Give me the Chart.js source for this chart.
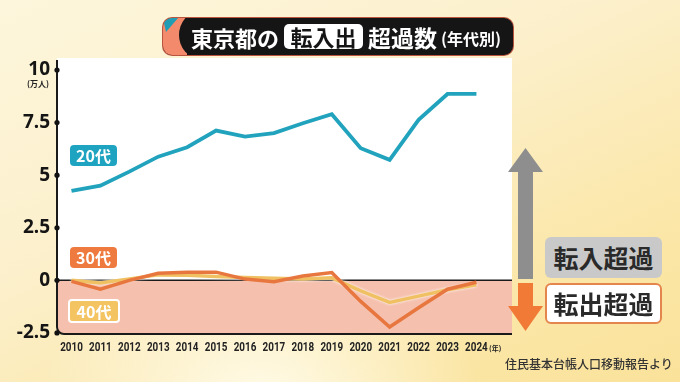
<!DOCTYPE html>
<html lang="ja">
<head>
<meta charset="utf-8">
<script src="https://cdn.jsdelivr.net/npm/chart.js@4.4.1/dist/chart.umd.min.js"></script>
<style>
  html,body{margin:0;padding:0;}
  body{width:680px;height:382px;overflow:hidden;position:relative;
    background:
      radial-gradient(ellipse 220px 160px at 260px 400px, rgba(255,252,236,0.95), rgba(255,252,236,0) 100%),
      linear-gradient(155deg, #fdf6dc 0%, #fcf0cc 40%, #fbe7a9 75%, #fae29a 100%);
    font-family:"Noto Sans CJK JP","Noto Sans",sans-serif;}
  #wrap{position:absolute;left:0;top:0;width:680px;height:382px;}
  .ov{position:absolute;white-space:nowrap;}
  .badge{position:absolute;color:#fff;font-weight:700;font-size:16px;line-height:21px;text-align:center;border-radius:4px;}
  .jt{font-family:"Noto Sans CJK JP",sans-serif;font-weight:700;}
</style>
</head>
<body>
<div id="wrap"><canvas id="c" width="680" height="382"></canvas></div>

<!-- title -->
<div class="ov" style="left:163px;top:18px;width:350px;height:37px;background:#151515;border-radius:9px;overflow:hidden;box-shadow:0 0 0 1px #b9553f;">
  <svg width="40" height="37" style="position:absolute;left:0;top:0">
    <rect x="0" y="0" width="24" height="37" fill="#f38a6b"/>
    <ellipse cx="36" cy="17" rx="20" ry="23" fill="#151515"/>
    <polygon points="0,0 15,0 3,14" fill="#1f9db4"/>
  </svg>
</div>
<div class="ov jt" style="left:191px;top:21px;font-size:22px;line-height:32px;color:#fff;">東京都の</div>
<div class="ov jt" style="left:284px;top:24px;width:79px;height:25px;background:#fff;border-radius:5px;color:#151515;font-size:22px;line-height:25px;text-align:center;">転入出</div>
<div class="ov jt" style="left:368px;top:21px;font-size:23px;line-height:32px;color:#fff;">超過数</div>
<div class="ov jt" style="left:441px;top:24px;font-size:16px;line-height:28px;color:#fff;">(年代別)</div>

<!-- unit -->
<div class="ov jt" style="left:27px;top:78px;font-size:8px;line-height:12px;color:#222;">(万人)</div>
<div class="ov jt" style="left:489px;top:343px;font-size:7px;line-height:10px;color:#222;">(年)</div>

<!-- series badges -->
<div class="badge jt" style="left:70px;top:145px;width:47px;height:21px;background:#1ea4c0;">20代</div>
<div class="badge jt" style="left:70px;top:247px;width:47px;height:21px;background:#ee7a3f;">30代</div>
<div class="badge jt" style="left:68px;top:299px;width:48px;height:20px;background:#f4c462;border:2px solid #fff;">40代</div>

<!-- arrows -->
<svg class="ov" style="left:0;top:0" width="680" height="382">
  <rect x="518" y="170" width="15" height="109" fill="#8e8e8e"/>
  <polygon points="508,172 525.5,148 543,172" fill="#8e8e8e"/>
  <rect x="518" y="283" width="15" height="25" fill="#f07a36"/>
  <polygon points="508,306 525.5,331 543,306" fill="#f07a36"/>
</svg>

<!-- right labels -->
<div class="ov jt" style="left:545px;top:237px;width:117px;height:41px;background:#c9c9c9;border-radius:6px;color:#2a2a2a;font-size:25px;line-height:41px;text-align:center;">転入超過</div>
<div class="ov jt" style="left:545px;top:283px;width:113px;height:37px;background:#fff;border:2px solid #e4854e;border-radius:6px;color:#2a2a2a;font-size:25px;line-height:37px;text-align:center;">転出超過</div>

<!-- source -->
<div class="ov" style="left:505px;top:356px;font-size:12px;line-height:16px;color:#333;font-family:'Noto Sans CJK JP',sans-serif;font-weight:500;">住民基本台帳人口移動報告より</div>

<script>
const years = [2010,2011,2012,2013,2014,2015,2016,2017,2018,2019,2020,2021,2022,2023,2024];
const age20 = [4.25,4.5,5.17,5.88,6.33,7.12,6.83,7.0,7.47,7.9,6.28,5.73,7.63,8.86,8.86];
const age30 = [-0.05,-0.42,0.0,0.34,0.39,0.39,0.06,-0.07,0.21,0.37,-1.0,-2.22,-1.3,-0.42,-0.09];
const age40 = [0.0,-0.13,0.07,0.26,0.24,0.18,0.13,0.1,0.06,0.12,-0.5,-1.05,-0.75,-0.45,-0.21];
const yTicks = [-2.5,0,2.5,5,7.5,10];

const panelPlugin = {
  id:'panel',
  beforeDatasetsDraw(chart){
    const {ctx, chartArea:a, scales:{y}} = chart;
    const y0 = y.getPixelForValue(0);
    const r = 7;
    ctx.save();
    ctx.fillStyle = '#ffffff';
    ctx.fillRect(a.left, a.top, a.right - a.left, y0 - a.top);
    ctx.beginPath();
    ctx.moveTo(a.left, y0);
    ctx.lineTo(a.right, y0);
    ctx.lineTo(a.right, a.bottom);
    ctx.lineTo(a.left + r, a.bottom);
    ctx.arcTo(a.left, a.bottom, a.left, a.bottom - r, r);
    ctx.closePath();
    ctx.fillStyle = '#f5c0ad';
    ctx.fill();
    ctx.strokeStyle = '#1a1a1a';
    ctx.lineWidth = 1.5;
    ctx.beginPath(); ctx.moveTo(a.left, y0); ctx.lineTo(a.right, y0); ctx.stroke();
    ctx.lineWidth = 2;
    ctx.beginPath();
    ctx.moveTo(a.left, a.top + 2);
    ctx.lineTo(a.left, a.bottom - r);
    ctx.arcTo(a.left, a.bottom, a.left + r, a.bottom, r);
    ctx.lineTo(a.right, a.bottom);
    ctx.stroke();
    ctx.fillStyle = '#111';
    y.ticks.forEach(t => {
      const py = y.getPixelForValue(t.value);
      ctx.beginPath(); ctx.arc(a.left, py, 2.6, 0, Math.PI * 2); ctx.fill();
    });
    ctx.restore();
  },
  beforeDatasetDraw(chart, args){
    if (args.index === 2) {
      chart.ctx.save();
      chart.ctx.shadowColor = 'rgba(255,255,255,1)';
      chart.ctx.shadowBlur = 3;
    }
  },
  afterDatasetDraw(chart, args){
    if (args.index === 2) chart.ctx.restore();
  },
  afterDraw(chart){
    // narrow (condensed) year labels under the x axis, placed by the x scale
    const {ctx, chartArea:a, scales:{x}} = chart;
    ctx.save();
    ctx.fillStyle = '#222';
    ctx.font = "bold 13px Roboto, 'Noto Sans', sans-serif";
    ctx.textAlign = 'center';
    ctx.textBaseline = 'middle';
    x.ticks.forEach(t => {
      const px = x.getPixelForValue(t.value);
      ctx.save();
      ctx.translate(px, a.bottom + 14);
      ctx.scale(0.76, 1);
      ctx.fillText(String(t.value), 0, 0);
      ctx.restore();
    });
    ctx.restore();
  }
};

new Chart(document.getElementById('c'), {
  type:'line',
  data:{
    labels: years,
    datasets:[
      {label:'20代', data:age20, borderColor:'#22a3bd', borderWidth:3.8, pointRadius:0, tension:0},
      {label:'30代', data:age30, borderColor:'#e8773f', borderWidth:3.5, pointRadius:0, tension:0},
      {label:'40代', data:age40, borderColor:'#f0c162', borderWidth:3.5, pointRadius:0, tension:0}
    ]
  },
  options:{
    responsive:false,
    animation:false,
    layout:{padding:{left:0, right:168, top:58, bottom:18}},
    plugins:{legend:{display:false}, tooltip:{enabled:false}},
    scales:{
      x:{
        type:'linear', min:2009.5, max:2025.23,
        grid:{display:false, drawTicks:false}, border:{display:false},
        afterBuildTicks:(s)=>{ s.ticks = years.map(v=>({value:v})); },
        afterFit:(s)=>{ s.height = 30; },
        ticks:{display:false, autoSkip:false, maxRotation:0}
      },
      y:{
        min:-2.55, max:10.57,
        grid:{display:false, drawTicks:false}, border:{display:false},
        afterBuildTicks:(s)=>{ s.ticks = yTicks.map(v=>({value:v})); },
        afterFit:(s)=>{ s.width = 57; },
        ticks:{padding:7, color:'#151515',
          font:{family:"'Noto Sans',sans-serif", size:19, weight:'bold'},
          callback:(v)=>String(v)}
      }
    }
  },
  plugins:[panelPlugin]
});
</script>
</body>
</html>
